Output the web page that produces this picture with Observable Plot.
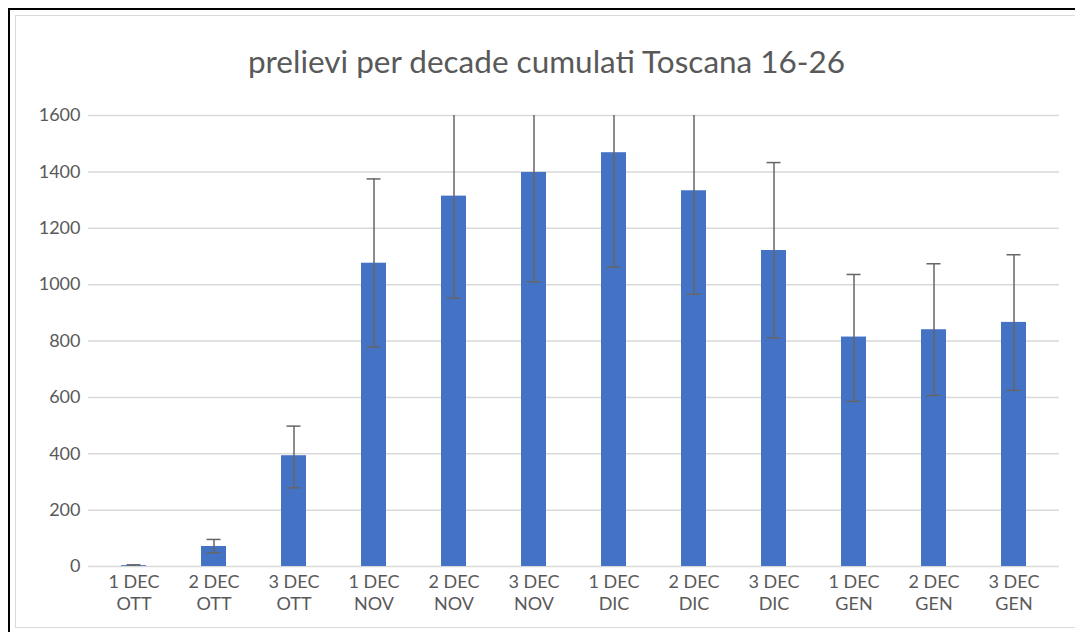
<!DOCTYPE html>
<html>
<head>
<meta charset="utf-8">
<script src="https://cdn.jsdelivr.net/npm/d3@7"></script>
<script src="https://cdn.jsdelivr.net/npm/@observablehq/plot@0.6"></script>
<style>
  html, body { margin: 0; padding: 0; background: #fff; overflow: hidden; }
  #page { position: relative; width: 1075px; height: 632px; overflow: hidden; }
  #outer { position: absolute; left: 8px; top: 8px; width: 1100px; height: 700px; border: 2px solid #000; box-sizing: border-box; }
  #inner { position: absolute; left: 15px; top: 15px; width: 1100px; height: 613px; border: 1.5px solid #d9d9d9; box-sizing: border-box; background: #fff; }
  #title { position: absolute; left: 0; width: 1093px; top: 42px; text-align: center; font-family: Lato, "Open Sans", sans-serif; font-size: 31.5px; color: #595959; }
  #chart { position: absolute; left: 0; top: 90px; }
</style>
</head>
<body>
<div id="page">
  <div id="outer"></div>
  <div id="inner"></div>
  <div id="title">prelievi per decade cumulati Toscana 16-26</div>
  <div id="chart"></div>
</div>
<script>
const categories = ["1 DEC\nOTT", "2 DEC\nOTT", "3 DEC\nOTT", "1 DEC\nNOV", "2 DEC\nNOV", "3 DEC\nNOV",
                    "1 DEC\nDIC", "2 DEC\nDIC", "3 DEC\nDIC", "1 DEC\nGEN", "2 DEC\nGEN", "3 DEC\nGEN"];
const values  = [3, 71, 393, 1076, 1314, 1398, 1468, 1333, 1121, 814, 840, 866];
const errLow  = [0, 49, 279, 779, 952, 1010, 1062, 966, 811, 586, 607, 625];
const errHigh = [6, 96, 498, 1375, 1676, 1786, 1874, 1700, 1433, 1036, 1074, 1106];
const yTicks  = [0, 200, 400, 600, 800, 1000, 1200, 1400, 1600];

const data = categories.map((c, i) => ({cat: c, value: values[i], lo: errLow[i], hi: errHigh[i]}));

const chart = Plot.plot({
  width: 1075,
  height: 542,
  marginLeft: 88,
  marginRight: 16,
  marginTop: 25,
  marginBottom: 66,
  style: {fontFamily: "Lato, 'Open Sans', sans-serif", fontSize: "17px", color: "#595959", background: "transparent"},
  x: {domain: categories, paddingInner: 0.69, paddingOuter: 0.345, align: 0.5, label: null},
  y: {domain: [0, 1600], label: null},
  marks: [
    Plot.gridY(yTicks, {stroke: "#d9d9d9", strokeOpacity: 1, strokeWidth: 1.5}),
    Plot.barY(data, {x: "cat", y: "value", fill: "#4472C4"}),
    Plot.ruleX(data, {x: "cat", y1: "lo", y2: "hi", stroke: "#666666", strokeWidth: 1.5, clip: true}),
    Plot.tickY(data, {x: "cat", y: "lo", stroke: "#666666", strokeWidth: 1.5, insetLeft: 5.5, insetRight: 5.5, clip: true}),
    Plot.tickY(data, {x: "cat", y: "hi", stroke: "#666666", strokeWidth: 1.5, insetLeft: 5.5, insetRight: 5.5, clip: true}),
    Plot.axisY({ticks: yTicks, tickFormat: d => String(d), tickSize: 0, tickPadding: 8, fill: "#595959", fontSize: 18, label: null}),
    Plot.axisX({tickSize: 0, tickPadding: 6, fill: "#595959", fontSize: 18, lineHeight: 1.22, label: null})
  ]
});
document.getElementById("chart").appendChild(chart);
</script>
</body>
</html>
